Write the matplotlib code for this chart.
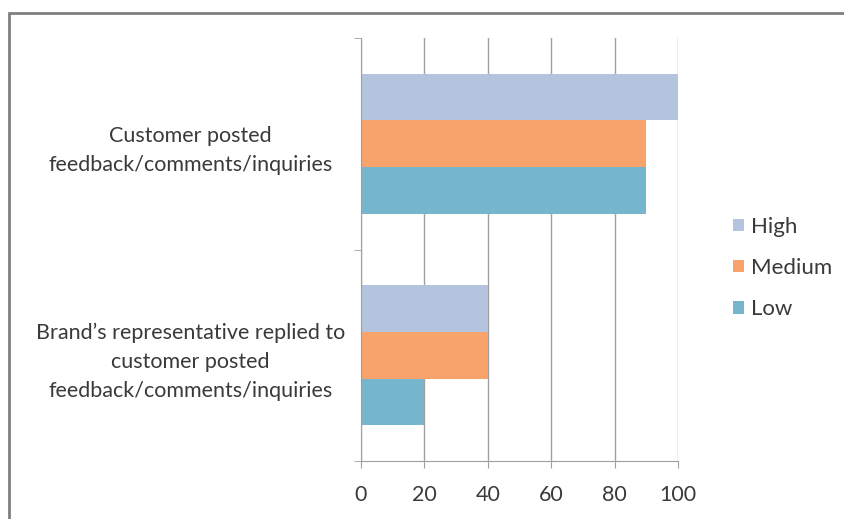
import numpy as np
import matplotlib
matplotlib.use("Agg")
from matplotlib import pyplot as plt
from matplotlib.patches import Rectangle

# datos
categories = ["Customer posted\nfeedback/comments/inquiries",
              "Brand\u2019s representative replied to\ncustomer posted\nfeedback/comments/inquiries"]
series = ["High", "Medium", "Low"]
high = [100, 40]
medium = [90, 40]
low = [90, 20]
colors = ["#B4C3DE", "#F8A26C", "#76B6CC"]
xticks = [0, 20, 40, 60, 80, 100]

plt.rcParams['font.family'] = ['Lato', 'DejaVu Sans']

fig = plt.figure(figsize=(8.45, 5.19), dpi=100)
ax = fig.add_axes([361/845, 1-461/519, 317/845, 423/519])

y = np.arange(len(categories))
h = 0.22
for i, (vals, name) in enumerate(zip([high, medium, low], series)):
    ax.barh(y + (i - 1) * h, vals, height=h, color=colors[i], label=name, zorder=3)

ax.set_xlim(0, 100)
ax.set_ylim(1.5, -0.5)
ax.set_xticks(xticks)
ax.set_yticks(y)
ax.set_yticklabels(categories, ha='center', multialignment='center', linespacing=1.55)
ax.set_yticks([-0.5, 0.5, 1.5], minor=True)
ax.tick_params(axis='y', which='major', length=0, pad=123, labelsize=15.5, colors='#3A3A3A')
ax.tick_params(axis='y', which='minor', length=5, color='#A0A0A0')
ax.tick_params(axis='x', length=5, color='#A0A0A0', labelsize=15.5, labelcolor='#3A3A3A', pad=12)
ax.grid(axis='x', color='#A0A0A0', linewidth=1, zorder=0)
for s in ['top', 'right']:
    ax.spines[s].set_visible(False)
ax.spines['left'].set_color('#A0A0A0')
ax.spines['bottom'].set_color('#A0A0A0')
ax.spines['left'].set_zorder(4)

leg = fig.legend(loc='center left', bbox_to_anchor=(733/845, 1-268/519), frameon=False,
                 fontsize=16, handlelength=0.5, handleheight=0.5, handletextpad=0.3,
                 labelspacing=0.95, labelcolor='#3A3A3A', borderpad=0, borderaxespad=0)

# marco de la figura
fig.patches.append(Rectangle((9/845, -0.05), 1.1, 1-13/519+0.05, transform=fig.transFigure,
                             fill=False, edgecolor='#808080', linewidth=2))

fig.savefig("out.png", dpi=100)
